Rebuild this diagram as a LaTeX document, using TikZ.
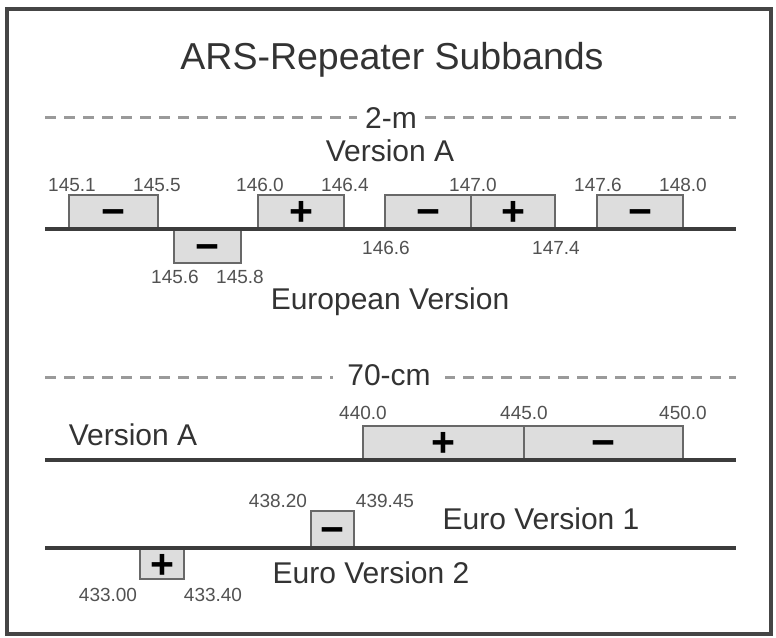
\documentclass[tikz,border=0pt]{standalone}
\usepackage{fontspec}
\setmainfont{Liberation Sans}
\definecolor{txt}{HTML}{333333}
\definecolor{boxfill}{HTML}{DDDDDD}
\definecolor{boxline}{HTML}{686868}
\definecolor{lineclr}{HTML}{3C3C3C}
\definecolor{dashclr}{HTML}{9A9A9A}
\definecolor{frameclr}{HTML}{454545}
\begin{document}
\begin{tikzpicture}[x=1pt, y=-1pt,
    heading/.style={font=\fontsize{37.5}{42}\selectfont, text=txt, inner sep=0pt},
    vlabel/.style={font=\fontsize{30}{36}\selectfont, text=txt, inner sep=0pt},
    freq/.style={font=\fontsize{19}{22}\selectfont, text=txt!85, inner sep=0pt},
    subband/.style={draw=boxline, line width=2pt, fill=boxfill, minimum height=33pt,
        inner sep=0pt, text height=28pt, text depth=0pt,
        font=\fontsize{41}{44}\selectfont\bfseries},
    bandline/.style={draw=lineclr, line width=4pt},
    dashline/.style={draw=dashclr, line width=3pt, dash pattern=on 11pt off 8pt}]
    \useasboundingbox (0,0) rectangle (776,637);
    \fill[white] (0,0) rectangle (776,637);
    \draw[frameclr, line width=4pt] (7,9) rectangle (771,634);

    \node[heading] (title) at (392,60) {ARS-Repeater Subbands};

    % 2-m
    \coordinate (d2a) at (45,117);
    \coordinate (d2b) at (736,117);
    \draw[dashline] (d2a) -- (d2b);
    \node[vlabel, fill=white, inner xsep=8pt] (twom) at (391,118) {2-m};
    \node[vlabel] (verA) at (390,151) {Version A};

    \node[subband, minimum width=89pt, anchor=south west] (m1) at (68,229) {−};
    \node[subband, minimum width=86pt, anchor=south west] (p1) at (257,229) {+};
    \node[subband, minimum width=86pt, anchor=south west] (m2) at (384,229) {−};
    \node[subband, minimum width=84pt, anchor=south west] (p2) at (470,229) {+};
    \node[subband, minimum width=86pt, anchor=south west] (m3) at (596,229) {−};
    \node[subband, minimum width=67pt, anchor=north west] (e1) at (173,229) {−};

    \coordinate (l2a) at (45,229);
    \coordinate (l2b) at (736,229);
    \draw[bandline] (l2a) -- (l2b);

    \node[freq] (f1) at (72,185) {145.1};
    \node[freq] (f2) at (157,185) {145.5};
    \node[freq] (f3) at (260,185) {146.0};
    \node[freq] (f4) at (345,185) {146.4};
    \node[freq] (f5) at (473,185) {147.0};
    \node[freq] (f6) at (598,185) {147.6};
    \node[freq] (f7) at (683,185) {148.0};
    \node[freq] (f8) at (386,248) {146.6};
    \node[freq] (f9) at (556,248) {147.4};
    \node[freq] (f10) at (175,277) {145.6};
    \node[freq] (f11) at (240,277) {145.8};

    \node[vlabel] (euro) at (390,302) {European Version};

    % 70-cm
    \coordinate (d7a) at (45,377);
    \coordinate (d7b) at (736,377);
    \draw[dashline] (d7a) -- (d7b);
    \node[vlabel, fill=white, inner xsep=14pt] (seventy) at (389,375) {70-cm};
    \node[vlabel] (verA70) at (133,435) {Version A};

    \node[subband, minimum width=161pt, anchor=south west] (p70) at (362,460) {+};
    \node[subband, minimum width=159pt, anchor=south west] (m70) at (523,460) {−};

    \coordinate (l7a) at (45,460);
    \coordinate (l7b) at (736,460);
    \draw[bandline] (l7a) -- (l7b);

    \node[freq] (g1) at (363,413) {440.0};
    \node[freq] (g2) at (524,413) {445.0};
    \node[freq] (g3) at (683,413) {450.0};

    \node[subband, minimum width=43pt, minimum height=36pt, anchor=south west] (me1) at (310,548) {−};
    \node[subband, minimum width=44pt, minimum height=30pt, anchor=north west] (pe2) at (139,548) {+};

    \coordinate (lea) at (45,548);
    \coordinate (leb) at (736,548);
    \draw[bandline, line width=3.5pt] (lea) -- (leb);

    \node[freq] (h1) at (278,501) {438.20};
    \node[freq] (h2) at (385,501) {439.45};
    \node[freq] (h3) at (108,595) {433.00};
    \node[freq] (h4) at (213,595) {433.40};

    \node[vlabel] (euro1) at (541,519) {Euro Version 1};
    \node[vlabel] (euro2) at (371,573) {Euro Version 2};
\end{tikzpicture}
\end{document}
